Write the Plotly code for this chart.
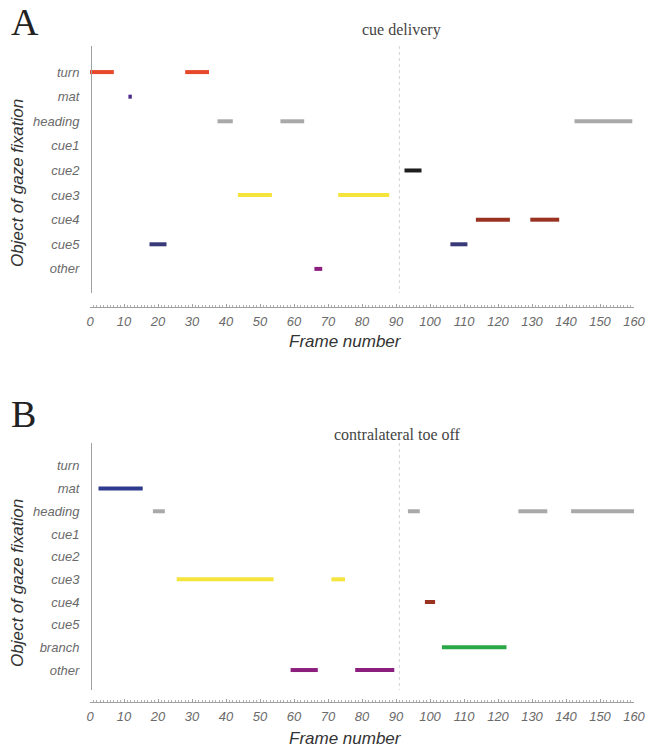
import plotly.graph_objects as go

# ---------------- data ----------------
cats_A = ["turn", "mat", "heading", "cue1", "cue2", "cue3", "cue4", "cue5", "other"]
cats_B = ["turn", "mat", "heading", "cue1", "cue2", "cue3", "cue4", "cue5", "branch", "other"]

seg_A_cat = ["turn", "turn", "mat", "heading", "heading", "heading", "cue2",
             "cue3", "cue3", "cue4", "cue4", "cue5", "cue5", "other"]
seg_A_start = [0, 28, 11.3, 37.5, 56, 142.5, 92.5, 43.5, 73, 113.5, 129.5, 17.5, 106, 66]
seg_A_end = [7, 35, 12.3, 42, 63, 159.5, 97.5, 53.5, 88, 123.5, 138, 22.5, 111, 68.3]

seg_B_cat = ["mat", "heading", "heading", "heading", "heading", "cue3", "cue3",
             "cue4", "branch", "other", "other"]
seg_B_start = [2.5, 18.5, 93.5, 126, 141.5, 25.5, 71, 98.5, 103.5, 59, 78]
seg_B_end = [15.5, 22, 97, 134.5, 160, 54, 75, 101.5, 122.5, 67, 89.5]

event_frame = 91
x_ticks = list(range(0, 161, 10))

colors_A = {"turn": "#e8482a", "mat": "#4b2a8c", "heading": "#a9a9a9", "cue2": "#1e1e1e",
            "cue3": "#f4e43c", "cue4": "#9a3222", "cue5": "#39397a", "other": "#8c1f7e"}
colors_B = {"mat": "#2d3a8e", "heading": "#a9a9a9", "cue3": "#f4e43c", "cue4": "#9a3222",
            "branch": "#2aa846", "other": "#8c1f7e"}

# ---------------- layout geometry (page pixels; body margin removed) ----------------
W, H = 648, 750
ML, MR = 90, 14
PW = W - ML - MR


def py(p):
    return 1 - p / H


def pxp(p):
    return (p - ML) / PW


fig = go.Figure()


def add_segments(cats, starts, ends, order, colors, xa, ya):
    for c, s, e in zip(cats, starts, ends):
        idx = order.index(c)
        fig.add_trace(go.Scatter(
            x=[s, e], y=[idx, idx], mode="lines",
            line=dict(color=colors[c], width=4),
            xaxis=xa, yaxis=ya, showlegend=False, hoverinfo="skip"))


add_segments(seg_A_cat, seg_A_start, seg_A_end, cats_A, colors_A, "x", "y")
add_segments(seg_B_cat, seg_B_start, seg_B_end, cats_B, colors_B, "x2", "y2")

tickfont = dict(family="Liberation Sans, Arial, sans-serif", size=13, color="#6a6a6a")

xcommon = dict(range=[0, 160], tickvals=x_ticks, ticktext=[f"<i>{v}</i>" for v in x_ticks],
               showgrid=False, zeroline=False, showline=True, linecolor="#a0a0a0",
               linewidth=1, ticks="inside", ticklen=3, tickcolor="#a0a0a0",
               minor=dict(dtick=1, ticks="inside", ticklen=2, tickcolor="#b0b0b0"),
               tickfont=tickfont, anchor="free", fixedrange=True, ticklabelstandoff=2)

ycommon = dict(showgrid=False, zeroline=False, showline=True, linecolor="#a0a0a0",
               ticks="", tickfont=tickfont, anchor="free", position=pxp(91),
               fixedrange=True, ticklabelstandoff=9)

fig.update_layout(
    xaxis=dict(**xcommon, position=py(307), domain=[0, 1]),
    xaxis2=dict(**xcommon, position=py(702), domain=[0, 1]),
    yaxis=dict(**ycommon, domain=[py(293), py(46)], range=[8.98, -1.06],
               tickvals=list(range(len(cats_A))), ticktext=[f"<i>{c}</i>" for c in cats_A]),
    yaxis2=dict(**ycommon, domain=[py(690), py(443)], range=[9.88, -1.01],
                tickvals=list(range(len(cats_B))), ticktext=[f"<i>{c}</i>" for c in cats_B]),
    width=W, height=H,
    margin=dict(l=ML, r=MR, t=0, b=0, autoexpand=False),
    plot_bgcolor="white", paper_bgcolor="white",
)

# dotted event lines
for xa, ya, y0, y1 in (("x", "y", -1.06, 8.98), ("x2", "y2", -1.01, 9.88)):
    fig.add_shape(type="line", xref=xa, yref=ya,
                  x0=event_frame, x1=event_frame, y0=y0, y1=y1,
                  line=dict(color="#d4d4d4", width=1, dash="dot"))

ann_font_it = dict(family="Liberation Sans, Arial, sans-serif", size=17, color="#333333")
serif = "Liberation Serif, Times New Roman, serif"

annotations = [
    dict(text="A", x=9, y=22, xanchor="left", font=dict(family=serif, size=38, color="#222")),
    dict(text="B", x=9, y=414, xanchor="left", font=dict(family=serif, size=38, color="#222")),
    dict(text="cue delivery", x=401, y=30, xanchor="center", font=dict(family=serif, size=16, color="#444")),
    dict(text="contralateral toe off", x=397, y=435, xanchor="center", font=dict(family=serif, size=16, color="#444")),
    dict(text="<i>Frame number</i>", x=345, y=341, xanchor="center", font=ann_font_it),
    dict(text="<i>Frame number</i>", x=345, y=738, xanchor="center", font=ann_font_it),
    dict(text="<i>Object of gaze fixation</i>", x=17, y=183, xanchor="center", textangle=-90, font=ann_font_it),
    dict(text="<i>Object of gaze fixation</i>", x=17, y=583, xanchor="center", textangle=-90, font=ann_font_it),
]
for a in annotations:
    a["x"] = pxp(a["x"])
    a["y"] = py(a["y"])
    fig.add_annotation(xref="paper", yref="paper", showarrow=False, yanchor="middle", **a)

fig.write_html("out.html", config={"displayModeBar": False},
               post_script="document.body.style.margin='0';document.body.style.overflow='hidden';")
